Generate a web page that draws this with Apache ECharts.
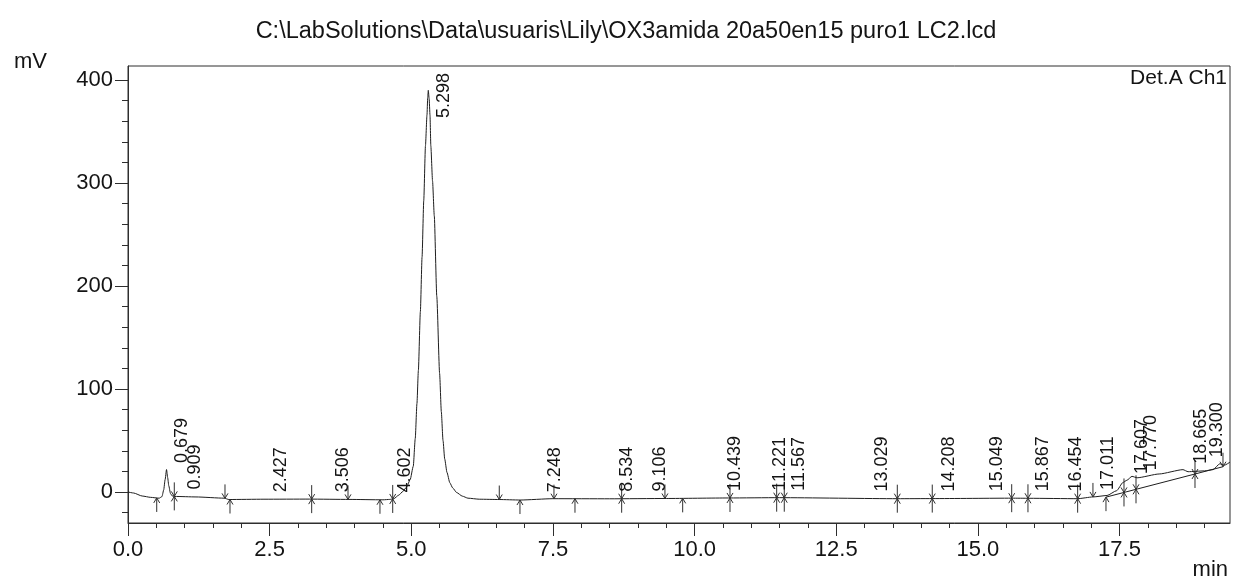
<!DOCTYPE html>
<html><head><meta charset="utf-8">
<script src="https://cdn.jsdelivr.net/npm/echarts@6/dist/echarts.min.js"></script>
<style>html,body{margin:0;padding:0;background:#fff}#c{width:1239px;height:585px}</style>
</head><body><div id="c"></div>
<script>
const chartTitle = 'C:\\LabSolutions\\Data\\usuaris\\Lily\\OX3amida 20a50en15 puro1 LC2.lcd';
const traceTime = [0.00,0.10,0.25,0.40,0.55,0.60,0.63,0.655,0.68,0.70,0.72,0.75,0.78,0.82,1.20,1.70,1.78,2.40,3.20,3.90,4.50,4.62,4.69,4.78,4.85,4.92,4.98,5.035,5.07,5.10,5.125,5.16,5.19,5.22,5.25,5.277,5.29,5.30,5.315,5.33,5.345,5.375,5.406,5.45,5.50,5.53,5.56,5.59,5.63,5.68,5.73,5.80,5.90,6.00,6.20,6.55,6.92,7.50,8.50,9.50,10.60,11.50,13.58,14.20,15.60,15.90,16.76,17.03,17.28,17.45,17.56,17.63,17.72,17.81,18.20,18.62,18.71,19.00,19.15,19.27,19.35,19.45];
const traceMv = [0,-1.0,-3.9,-5.2,-6.0,-4.5,2,12,21.8,14,6,-1.5,-3.8,-4.3,-4.8,-6.0,-7.3,-7.0,-6.9,-7.2,-7.6,-7.2,-6.6,-3.0,0.5,5,12,25,52,86,118,175,228,283,336,366,383,390,382,366,336,302,268,190,115,78,50,32,19,9,4,-0.5,-4.0,-6.0,-7.0,-7.3,-7.8,-6.5,-6.6,-6.3,-5.8,-5.5,-6.5,-6.4,-6.0,-6.1,-6.5,-4.8,-3.4,1.3,9.2,11.4,15.2,13.8,17.5,21.7,19.7,20.5,21.7,27.4,26.0,29.0];
const intBaseTime = [17.26, 19.33];
const intBaseMv = [-5.0, 24.6];
const peakTimes = [0.679,0.909,2.427,3.506,4.602,5.298,7.248,8.534,9.106,10.439,11.221,11.567,13.029,14.208,15.049,15.867,16.454,17.011,17.607,17.770,18.665,19.300];
const startMarks = [0.507,1.80,4.447,6.918,7.889,9.79,17.261];
const endMarks = [1.712,3.883,6.553,7.518,9.477,17.031,19.326];
const splitMarks = [0.817,3.242,4.672,8.713,10.625,11.449,11.583,13.578,14.195,15.597,15.884,16.761,17.579,17.791,18.832];
const xMajorTicks = [0,2.5,5,7.5,10,12.5,15,17.5];
const xMinorTicks = [0,0.5,1,1.5,2,2.5,3,3.5,4,4.5,5,5.5,6,6.5,7,7.5,8,8.5,9,9.5,10,10.5,11,11.5,12,12.5,13,13.5,14,14.5,15,15.5,16,16.5,17,17.5,18,18.5,19];
const yMajorTicks = [0,100,200,300,400];
const yMinorTicks = [-20,0,20,40,60,80,100,120,140,160,180,200,220,240,260,280,300,320,340,360,380,400];

const FONT = '"Liberation Sans", Arial, sans-serif';
const INK = '#141414';
const LINE = '#2e2e2e';
const X_MIN = 0, X_MAX = 19.45, Y_MIN = -30.1, Y_MAX = 413.6;
const GRID = {left:128, right:9, top:66, bottom:62};

function interp(ts, vs, t){
  if (t <= ts[0]) return vs[0];
  for (let i=1;i<ts.length;i++){ if (t <= ts[i]) { const f=(t-ts[i-1])/(ts[i]-ts[i-1]); return vs[i-1]+f*(vs[i]-vs[i-1]); } }
  return vs[vs.length-1];
}
function baseAt(t){
  let v = interp(traceTime, traceMv, t);
  if (t >= intBaseTime[0] && t <= intBaseTime[1]) v = Math.min(v, interp(intBaseTime, intBaseMv, t));
  return v;
}
const markData = [].concat(
  startMarks.map(t=>[t, baseAt(t), 0]),
  endMarks.map(t=>[t, baseAt(t), 1]),
  splitMarks.map(t=>[t, baseAt(t), 2])
);
const labelData = peakTimes.map(t=>[t, interp(traceTime, traceMv, t)]);

const chart = echarts.init(document.getElementById('c'), null, {renderer:'canvas'});
const st = {stroke: LINE, lineWidth: 1, fill: null};
chart.setOption({
  animation: false,
  backgroundColor: '#fff',
  textStyle: {fontFamily: FONT},
  grid: [
    Object.assign({show:true, borderColor:LINE, borderWidth:1, backgroundColor:'transparent'}, GRID),
    Object.assign({show:false}, GRID)
  ],
  xAxis: [
    {gridIndex:0, type:'value', min:X_MIN, max:X_MAX,
     axisLine:{show:true, onZero:false, lineStyle:{color:LINE, width:1}},
     axisTick:{show:true, length:5, customValues:xMinorTicks, lineStyle:{color:LINE}},
     axisLabel:{show:false}, splitLine:{show:false}},
    {gridIndex:1, type:'value', min:X_MIN, max:X_MAX,
     axisLine:{show:false, onZero:false},
     axisTick:{show:true, length:13, customValues:xMajorTicks, lineStyle:{color:LINE}},
     axisLabel:{show:true, customValues:xMajorTicks, formatter:v=>Number(v).toFixed(1), fontSize:22, color:INK, margin:16, fontFamily:FONT},
     splitLine:{show:false}}
  ],
  yAxis: [
    {gridIndex:0, type:'value', min:Y_MIN, max:Y_MAX,
     axisLine:{show:true, onZero:false, lineStyle:{color:LINE, width:1}},
     axisTick:{show:true, length:6, customValues:yMinorTicks, lineStyle:{color:LINE}},
     axisLabel:{show:false}, splitLine:{show:false}},
    {gridIndex:1, type:'value', min:Y_MIN, max:Y_MAX,
     axisLine:{show:false, onZero:false},
     axisTick:{show:true, length:13, customValues:yMajorTicks, lineStyle:{color:LINE}},
     axisLabel:{show:true, customValues:yMajorTicks, fontSize:22, color:INK, margin:15, fontFamily:FONT},
     splitLine:{show:false}}
  ],
  graphic: [
    {type:'text', x:626, y:32, style:{text:chartTitle, font:'23.5px '+FONT, fill:INK, align:'center', verticalAlign:'middle'}},
    {type:'text', x:14, y:62, style:{text:'mV', font:'22px '+FONT, fill:INK, align:'left', verticalAlign:'middle'}},
    {type:'text', x:1228, y:570, style:{text:'min', font:'22px '+FONT, fill:INK, align:'right', verticalAlign:'middle'}},
    {type:'text', x:1227, y:78, style:{text:'Det.A Ch1', font:'21px '+FONT, fill:INK, align:'right', verticalAlign:'middle'}}
  ],
  series: [
    {type:'line', xAxisIndex:0, yAxisIndex:0, data:traceTime.map((t,i)=>[t, traceMv[i]]),
     showSymbol:false, smooth:0.2, smoothMonotone:'x', lineStyle:{color:'#1e1e1e', width:1}, z:3},
    {type:'line', xAxisIndex:0, yAxisIndex:0, data:intBaseTime.map((t,i)=>[t, intBaseMv[i]]),
     showSymbol:false, lineStyle:{color:'#1e1e1e', width:1}, z:3},
    {type:'custom', xAxisIndex:0, yAxisIndex:0, data:markData, clip:false, z:4,
     renderItem:(params, api)=>{
       const p = api.coord([api.value(0), api.value(1)]);
       const k = api.value(2);
       const x = p[0], y = p[1];
       const ch = [];
       if (k===1 || k===2){
         ch.push({type:'polyline', shape:{points:[[x,y-14],[x,y]]}, style:st});
         ch.push({type:'polyline', shape:{points:[[x-3,y-5],[x,y],[x+3,y-5]]}, style:st});
       }
       if (k===0 || k===2){
         ch.push({type:'polyline', shape:{points:[[x,y+14],[x,y]]}, style:st});
         ch.push({type:'polyline', shape:{points:[[x-3,y+5],[x,y],[x+3,y+5]]}, style:st});
       }
       return {type:'group', children:ch};
     }},
    {type:'custom', xAxisIndex:0, yAxisIndex:0, data:labelData, clip:false, z:5,
     renderItem:(params, api)=>{
       const t = api.value(0);
       const p = api.coord([t, api.value(1)]);
       const cs = params.coordSys;
       const txt = t.toFixed(3);
       const w = txt.length*9.2;
       const ay = Math.max(p[1]-7, cs.y + 6 + w);
       const ax = Math.min(p[0]+7, cs.x + cs.width - 22);
       return {type:'text', x:ax, y:ay, rotation:Math.PI/2,
         style:{text:txt, font:'18px '+FONT, fill:INK, align:'left', verticalAlign:'top'}};
     }}
  ]
});
</script></body></html>
